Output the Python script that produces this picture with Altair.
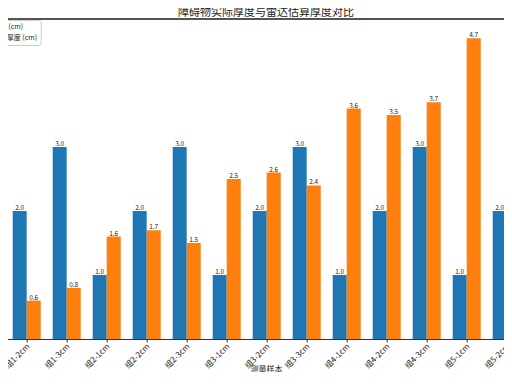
import altair as alt
import pandas as pd

# ---- data ----
categories = ["组1-1cm", "组1-2cm", "组1-3cm", "组2-1cm", "组2-2cm", "组2-3cm",
              "组3-1cm", "组3-2cm", "组3-3cm", "组4-1cm", "组4-2cm", "组4-3cm",
              "组5-1cm", "组5-2cm"]
actual_thickness = [1.0, 2.0, 3.0, 1.0, 2.0, 3.0, 1.0, 2.0, 3.0, 1.0, 2.0, 3.0, 1.0, 2.0]
radar_thickness = [0.7, 0.6, 0.8, 1.6, 1.7, 1.5, 2.5, 2.6, 2.4, 3.6, 3.5, 3.7, 4.7, 4.6]
series = ["实际厚度 (cm)", "雷达估算厚度 (cm)"]
colors = ["#1f77b4", "#ff7f0e"]

rows = []
for c, a, r in zip(categories, actual_thickness, radar_thickness):
    rows.append({"组": c, "系列": series[0], "值": a})
    rows.append({"组": c, "系列": series[1], "值": r})
df = pd.DataFrame(rows)
df_cats = pd.DataFrame({"组": categories})

FONT = "Noto Sans CJK SC"
STEP = 40
W, H = STEP * len(categories), 320
SVG_W = 496                # keeps the page from overflowing the 512px window
PAD_LEFT = -41.3           # plot origin sits left of the visible page (cropped view)
PAD_RIGHT = SVG_W - W - PAD_LEFT

x_enc = alt.X(
    "组:N", sort=categories,
    scale=alt.Scale(domain=categories, paddingInner=0.3, paddingOuter=0.15),
    axis=alt.Axis(
        title="测量样本", titleFont=FONT, titleFontSize=8, titleFontWeight="normal",
        titleColor="#222", titleX=299.3, titleY=32, titleAlign="center",
        titleBaseline="alphabetic", labels=False,
        tickSize=3, tickColor="#333", domainColor="#333", grid=False,
    ),
)
xo_enc = alt.XOffset("系列:N", sort=series,
                     scale=alt.Scale(domain=series, paddingInner=0, paddingOuter=0))
y_enc = alt.Y("值:Q", scale=alt.Scale(domain=[0, 5.0]), axis=None)

base = alt.Chart(df).encode(x=x_enc, xOffset=xo_enc, y=y_enc)

bars = base.mark_bar(clip=True).encode(
    color=alt.Color(
        "系列:N", sort=series,
        scale=alt.Scale(domain=series, range=colors),
        legend=alt.Legend(
            title=None, orient="none", direction="vertical", legendX=-3, legendY=1,
            labelFont=FONT, labelFontSize=7, labelColor="#222",
            symbolType="square", symbolSize=40, rowPadding=3,
            strokeColor="#cccccc", fillColor="white", padding=3, cornerRadius=2,
        ),
    )
)

labels = base.mark_text(
    clip=True, baseline="bottom", dy=0, font=FONT, fontSize=6.5, color="#222"
).encode(text=alt.Text("值:Q", format=".1f"))

# rotated category labels under the axis
tick_labels = alt.Chart(df_cats).mark_text(
    angle=315, align="right", baseline="top", font=FONT, fontSize=8, color="#222",
    dx=-1,
).encode(x=x_enc, y=alt.value(H + 3), text="组:N")

top_spine = alt.Chart(df).mark_rule(color="#555", strokeWidth=1).encode(
    y=alt.value(0), x=alt.value(0), x2=alt.value(W)
)

chart = alt.layer(bars, labels, tick_labels, top_spine).properties(
    width=W, height=H,
    title=alt.TitleParams(
        "障碍物实际厚度与雷达估算厚度对比", font=FONT, fontSize=11,
        fontWeight="normal", color="#222", anchor="middle", dx=19.3, offset=1,
    ),
    padding={"left": PAD_LEFT, "top": 11, "right": PAD_RIGHT, "bottom": 33},
    autosize=alt.AutoSizeParams(type="none"),
).configure_view(stroke=None)

chart.save("out.html", embed_options={"renderer": "svg", "actions": False})
